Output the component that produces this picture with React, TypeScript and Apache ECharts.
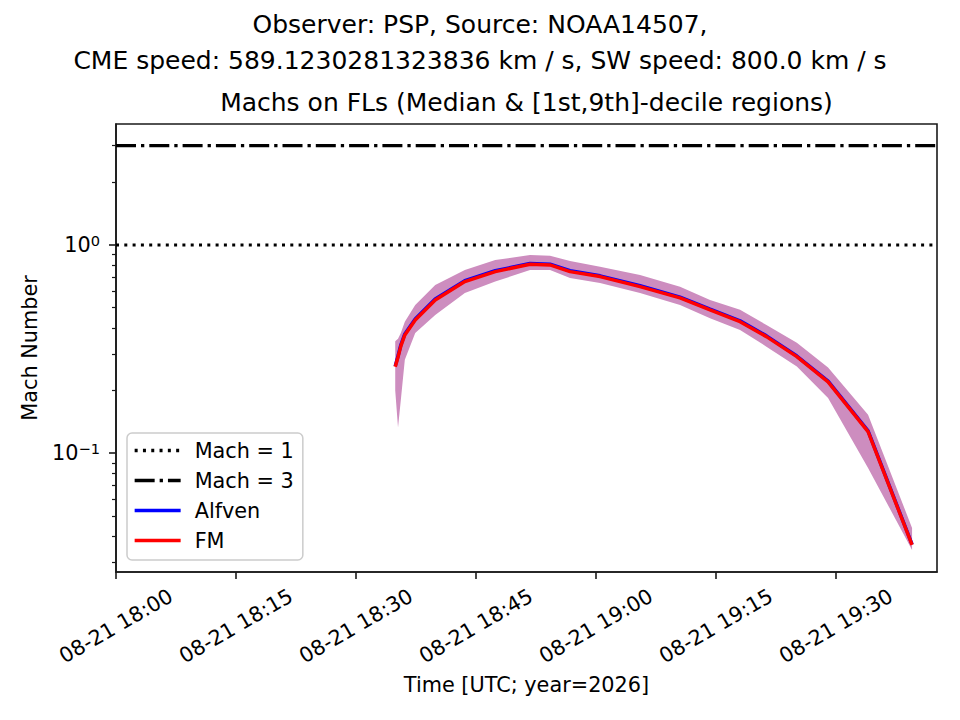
import React, { useEffect, useRef } from "react";
import * as echarts from "echarts";

// sample times (UTC, 2026-08-21) and Mach numbers
const times = [
  "18:34:54", "18:35:15", "18:35:36", "18:36:06", "18:37:24", "18:39:54", "18:43:36",
  "18:47:24", "18:51:45", "18:54:15", "18:56:45", "19:00:30", "19:05:30", "19:10:30",
  "19:14:15", "19:18:00", "19:21:18", "19:25:06", "19:29:00", "19:34:00", "19:39:30",
];
const fmMedian = [
  0.26, 0.29, 0.327, 0.37, 0.436, 0.544, 0.667, 0.745, 0.808, 0.802, 0.745, 0.705, 0.631,
  0.557, 0.488, 0.428, 0.363, 0.291, 0.22, 0.127, 0.0363,
];
const alfvenMedian = [
  0.262, 0.293, 0.331, 0.374, 0.441, 0.55, 0.674, 0.752, 0.815, 0.809, 0.752, 0.711, 0.637,
  0.562, 0.492, 0.432, 0.366, 0.293, 0.222, 0.128, 0.0365,
];
const decile1 = [
  0.2, 0.133, 0.18, 0.281, 0.378, 0.461, 0.588, 0.667, 0.759, 0.759, 0.694, 0.657, 0.588,
  0.515, 0.445, 0.391, 0.325, 0.261, 0.184, 0.085, 0.0343,
];
const decile9 = [
  0.345, 0.355, 0.378, 0.428, 0.515, 0.643, 0.759, 0.847, 0.895, 0.888, 0.838, 0.787, 0.718,
  0.631, 0.545, 0.488, 0.413, 0.339, 0.258, 0.153, 0.0438,
];

const machLevels = [1, 3];
const xTickLabels = ["18:00", "18:15", "18:30", "18:45", "19:00", "19:15", "19:30"];
const yMajorTicks = [0.1, 1];
const yMinorTicks = [0.03, 0.04, 0.05, 0.06, 0.07, 0.08, 0.09, 0.2, 0.3, 0.4, 0.5, 0.6, 0.7, 0.8, 0.9, 2, 3];

const FONT = "DejaVu Sans";

const toMs = (hms: string) => {
  const [h, m, s] = hms.split(":").map(Number);
  return Date.UTC(2026, 7, 21, h, m, s || 0);
};

const xMin = toMs("18:00:00");
const xMax = toMs("19:42:37");
const yMin = 0.0269;
const yMax = 3.81;

const App: React.FC = () => {
  const chartRef = useRef<HTMLDivElement | null>(null);

  useEffect(() => {
    document.body.style.margin = "0";
    if (!chartRef.current) return;
    const chart = echarts.init(chartRef.current, undefined, { renderer: "svg" });

    const band = times.map((t, i) => [toMs(t), decile1[i], decile9[i]]);
    const axisColor = "#1a1a1a";
    const pad2 = (n: number) => String(n).padStart(2, "0");

    const options = {
      animation: false,
      title: {
        text: "Observer: PSP, Source: NOAA14507,\nCME speed: 589.1230281323836 km / s, SW speed: 800.0 km / s",
        left: "center",
        top: 6,
        padding: 0,
        textStyle: { fontFamily: FONT, fontSize: 25, fontWeight: "normal", color: "#000", lineHeight: 36 },
      },
      graphic: [
        {
          type: "text",
          x: 526.5,
          y: 102.5,
          style: {
            text: "Machs on FLs (Median & [1st,9th]-decile regions)",
            font: `25px '${FONT}'`,
            fill: "#000",
            align: "center",
            verticalAlign: "middle",
          },
        },
      ],
      legend: {
        data: ["Mach = 1", "Mach = 3", "Alfven", "FM"],
        orient: "vertical",
        left: 127,
        top: 433,
        itemWidth: 46,
        itemHeight: 14,
        itemGap: 9,
        padding: [7, 9, 9, 6],
        backgroundColor: "rgba(255,255,255,0.8)",
        borderColor: "#cccccc",
        borderWidth: 1.5,
        borderRadius: 5,
        selectedMode: false,
        itemStyle: { opacity: 0 },
        lineStyle: { width: 3.3 },
        textStyle: { fontFamily: FONT, fontSize: 20.8, color: "#000", lineHeight: 21, padding: [0, 0, 0, 9] },
      },
      grid: {
        left: 116,
        top: 124,
        right: 23,
        bottom: 148,
        show: true,
        borderColor: axisColor,
        borderWidth: 1.6,
        backgroundColor: "transparent",
      },
      xAxis: {
        type: "value",
        min: xMin,
        max: xMax,
        interval: 15 * 60000,
        axisLine: { lineStyle: { color: axisColor, width: 1.6 } },
        axisTick: {
          customValues: xTickLabels.map((t) => toMs(t)),
          length: 7,
          lineStyle: { color: axisColor, width: 1.6 },
        },
        axisLabel: {
          customValues: xTickLabels.map((t) => toMs(t)),
          rotate: 30,
          align: "center",
          verticalAlign: "middle",
          margin: 54,
          fontFamily: FONT,
          fontSize: 20.8,
          color: "#000",
          formatter: (v: number) => {
            const d = new Date(v);
            return `${pad2(d.getUTCMonth() + 1)}-${pad2(d.getUTCDate())} ${pad2(d.getUTCHours())}:${pad2(d.getUTCMinutes())}`;
          },
        },
        splitLine: { show: false },
        name: "Time [UTC; year=2026]",
        nameLocation: "middle",
        nameGap: 102,
        nameTextStyle: { fontFamily: FONT, fontSize: 20.8, color: "#000", lineHeight: 22 },
      },
      yAxis: [
        {
          type: "log",
          logBase: 10,
          min: yMin,
          max: yMax,
          position: "left",
          axisLine: { show: true, lineStyle: { color: axisColor, width: 1.6 } },
          axisTick: { customValues: yMajorTicks, length: 7, lineStyle: { color: axisColor, width: 1.6 } },
          axisLabel: {
            customValues: yMajorTicks,
            margin: 16,
            color: "#000",
            formatter: (v: number) => {
              const e = Math.round(Math.log10(v));
              return `{b|10}{e|${e < 0 ? "\u2212" + -e : e}}`;
            },
            rich: {
              b: { fontFamily: FONT, fontSize: 20.8, lineHeight: 24, color: "#000" },
              e: { fontFamily: FONT, fontSize: 14.6, lineHeight: 14, verticalAlign: "top", color: "#000" },
            },
          },
          splitLine: { show: false },
          name: "Mach Number",
          nameLocation: "middle",
          nameGap: 74,
          nameTextStyle: { fontFamily: FONT, fontSize: 20.8, color: "#000", lineHeight: 22 },
        },
        {
          type: "log",
          logBase: 10,
          min: yMin,
          max: yMax,
          position: "left",
          axisLine: { show: false },
          axisTick: { customValues: yMinorTicks, length: 4, lineStyle: { color: axisColor, width: 1.2 } },
          axisLabel: { show: false },
          splitLine: { show: false },
        },
      ],
      series: [
        {
          name: "band",
          type: "custom",
          silent: true,
          data: band,
          encode: { x: 0, y: [1, 2] },
          renderItem: (params: any, api: any) => {
            if (params.dataIndex !== 0) return null;
            const upper = band.map((d) => api.coord([d[0], d[2]]));
            const lower = band.map((d) => api.coord([d[0], d[1]])).reverse();
            return {
              type: "polygon",
              shape: { points: upper.concat(lower) },
              style: { fill: "#cd8dbf", stroke: "none" },
            };
          },
        },
        {
          name: "Mach = 1",
          type: "line",
          symbol: "none",
          data: [[xMin, machLevels[0]], [xMax, machLevels[0]]],
          lineStyle: { color: "#000", width: 3.2, type: [3, 5.3] },
          itemStyle: { color: "#000" },
        },
        {
          name: "Mach = 3",
          type: "line",
          symbol: "none",
          data: [[xMin, machLevels[1]], [xMax, machLevels[1]]],
          lineStyle: { color: "#000", width: 3.2, type: [20, 5, 3.3, 5] },
          itemStyle: { color: "#000" },
        },
        {
          name: "Alfven",
          type: "line",
          symbol: "none",
          data: times.map((t, i) => [toMs(t), alfvenMedian[i]]),
          lineStyle: { color: "#0000ff", width: 3.5 },
          itemStyle: { color: "#0000ff" },
        },
        {
          name: "FM",
          type: "line",
          symbol: "none",
          data: times.map((t, i) => [toMs(t), fmMedian[i]]),
          lineStyle: { color: "#ff0000", width: 3.5 },
          itemStyle: { color: "#ff0000" },
        },
      ],
    };

    chart.setOption(options);

    return () => {
      chart.dispose();
    };
  }, []);

  return <div ref={chartRef} style={{ width: "960px", height: "720px" }} />;
};

export default App;
